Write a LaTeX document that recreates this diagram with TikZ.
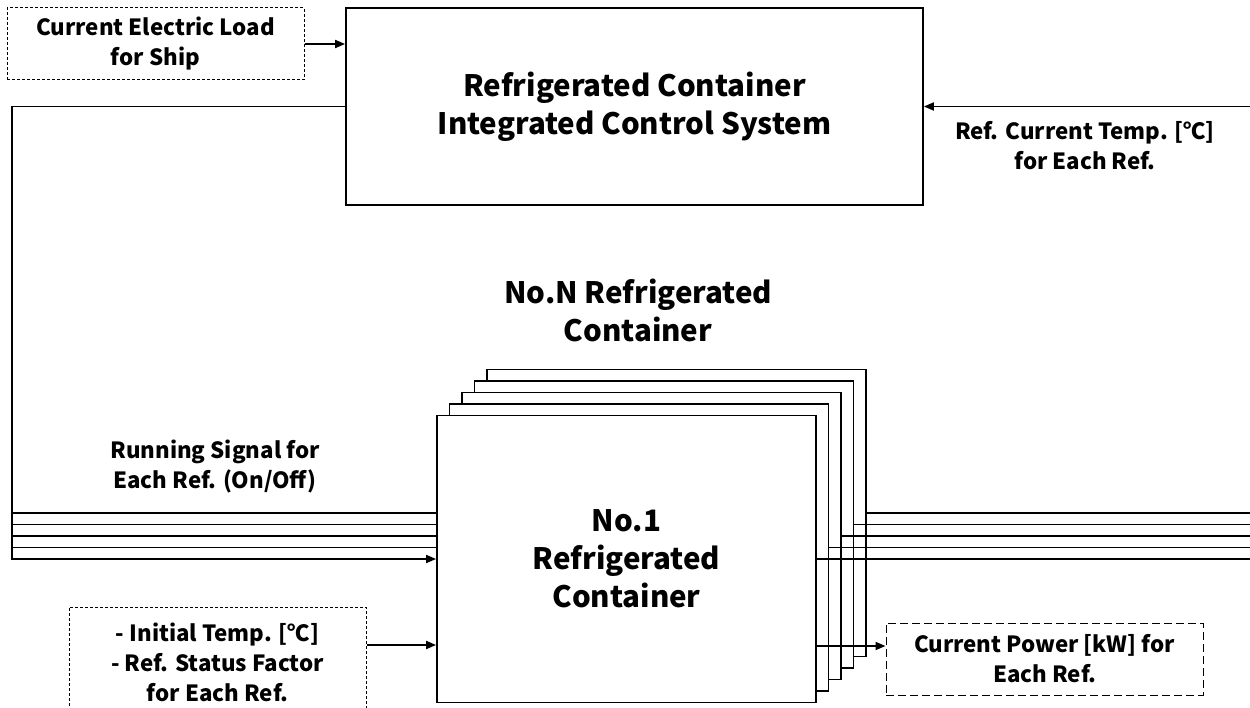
\documentclass[tikz,border=0pt]{standalone}
\usepackage{fontspec}
\setmainfont{Noto Sans CJK KR}
\usetikzlibrary{positioning,arrows.meta}

\begin{document}
\begin{tikzpicture}[x=1pt, y=-1pt, line width=1.8pt, >={Triangle[length=10pt,width=8pt]},
  refbox/.style = {draw, rectangle, fill=white, minimum width=379pt, minimum height=287pt, inner sep=0pt},
  inbox/.style = {draw, line width=1pt, dash pattern=on 3pt off 2pt, align=center, inner sep=0pt, font=\fontsize{22.3}{30}\selectfont\bfseries},
  lbl/.style = {align=center, font=\fontsize{22.3}{30}\selectfont\bfseries},
  big/.style = {align=center, font=\fontsize{29.5}{38}\selectfont\bfseries}]
\useasboundingbox (0,0) rectangle (1250,708);

\node[draw, big, minimum width=577pt, minimum height=197pt, inner sep=0pt] (ctrl) at (634.5,106.5) {Refrigerated Container\\Integrated Control System};
\node[inbox, minimum width=297pt, minimum height=72pt] (load) at (155.5,44) {Current Electric Load\\for Ship};
\node[lbl] (tlbl) at (1085,146) {Ref. Current Temp. [℃]\\for Each Ref.};
\coordinate (tin) at (1250,106.5);
\coordinate (lbus) at (12,0);
\coordinate (rbus) at (1250,0);

% stack of containers, back to front
\foreach \k in {4,3,2,1}
  \node[refbox] (ref\k) at ({626.5+12.5*\k},{559-11.5*\k}) {};
\node[refbox, big] (ref0) at (626.5,559) {No.1\\Refrigerated\\Container};
\node[big] (nlbl) at (638,310) {No.N Refrigerated\\Container};
\node[lbl] (rlbl) at (215,467) {Running Signal for\\Each Ref. (On/Off)};

\node[inbox, minimum width=297pt, minimum height=110pt] (init) at (217.5,662) {- Initial Temp. [℃]\\- Ref. Status Factor\\for Each Ref.};
\node[inbox, dash pattern=on 8pt off 4pt, minimum width=317pt, minimum height=72pt] (power) at (1044.5,659) {Current Power [kW] for\\Each Ref.};

\draw[->] (load.east) -- (load.east -| ctrl.west);
\draw[->] (tin) -- (ctrl.east);
\draw[->] (ctrl.west) -| (lbus |- ref0.west) -- (ref0.west);
\foreach \k in {1,...,4}
  \draw (lbus |- ref\k.west) -- (ref0.west |- ref\k.west);
\foreach \k in {0,...,4}
  \draw (ref\k.east) -- (ref\k.east -| rbus);
\draw[->] ([yshift=17pt]init.east) -- ([yshift=17pt]init.east -| ref0.west);
\draw[->] ([yshift=13pt]power.west -| ref0.east) -- ([yshift=13pt]power.west);

\end{tikzpicture}
\end{document}
